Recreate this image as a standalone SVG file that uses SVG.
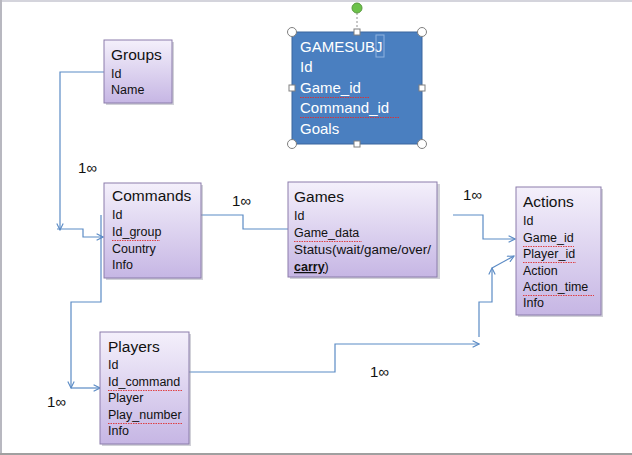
<svg xmlns="http://www.w3.org/2000/svg" width="632" height="455" viewBox="0 0 632 455">
<style>
.frame{fill:#ffffff}
.node rect.box{fill:url(#ng);stroke:#8b7cab;stroke-width:1}
.node rect.sh{fill:#9a9aa8;opacity:0.45}
.t{font-family:"Liberation Sans","DejaVu Sans",sans-serif;font-size:15.5px;fill:#111}
.f{font-family:"Liberation Sans","DejaVu Sans",sans-serif;font-size:12.5px;fill:#111}
.lbl{font-family:"Liberation Sans","DejaVu Sans",sans-serif;font-size:15px;fill:#111}
.w{font-family:"Liberation Sans","DejaVu Sans",sans-serif;font-size:15px;fill:#ffffff}
.c{fill:none;stroke:#5b8bc5;stroke-width:1.2}
.sq{fill:none;stroke:#e03030;stroke-width:0.9;stroke-dasharray:1.5 1}
.h{fill:#ffffff;stroke:#808080;stroke-width:1}
</style>
<defs>
<linearGradient id="ng" x1="0" y1="0" x2="0" y2="1">
<stop offset="0" stop-color="#f4f0fb"/>
<stop offset="1" stop-color="#c6b6e4"/>
</linearGradient>
<marker id="ar" viewBox="0 0 10 10" refX="9" refY="5" markerWidth="8" markerHeight="8" orient="auto" markerUnits="userSpaceOnUse">
<path d="M1,1 L9,5 L1,9" fill="none" stroke="#5b8bc5" stroke-width="1.4"/>
</marker>
</defs>
<rect class="frame" x="0" y="0" width="632" height="455"/>
<rect x="0" y="0" width="632" height="2" fill="#d4d4dc"/>
<rect x="0" y="0" width="2" height="455" fill="#b8b8c0"/>
<rect x="0" y="453" width="632" height="2" fill="#a0a0a0"/>

<g id="connectors">
<path class="c" d="M104,72 H60 V230" marker-end="url(#ar)"/>
<path class="c" d="M57,229 H83 V237 H103" marker-end="url(#ar)"/>
<path class="c" d="M101,215 V302 H71 V388" marker-end="url(#ar)"/>
<path class="c" d="M71,388 H100" marker-end="url(#ar)"/>
<path class="c" d="M201,215 H243 V229 H288"/>
<path class="c" d="M453,215 H483 V239 H515" marker-end="url(#ar)"/>
<path class="c" d="M189,372 H335 V344 H479" marker-end="url(#ar)"/>
<path class="c" d="M479,337 V302 H492 V268" marker-end="url(#ar)"/>
<path class="c" d="M492,268 L514,256" marker-end="url(#ar)"/>
<text class="lbl" x="78" y="173">1∞</text>
<text class="lbl" x="232" y="206">1∞</text>
<text class="lbl" x="463" y="200">1∞</text>
<text class="lbl" x="370" y="377">1∞</text>
<text class="lbl" x="47" y="407">1∞</text>
</g>

<g id="groups" class="node">
<rect class="sh" x="106" y="42" width="68" height="63"/>
<rect class="box" x="104" y="40" width="68" height="63"/>
<text class="t" x="111" y="60">Groups</text>
<text class="f" x="111" y="78">Id</text>
<text class="f" x="111" y="94">Name</text>
</g>

<g id="commands" class="node">
<rect class="sh" x="106" y="185" width="97" height="95"/>
<rect class="box" x="104" y="183" width="97" height="95"/>
<text class="t" x="112" y="201">Commands</text>
<text class="f" x="112" y="219">Id</text>
<text class="f" x="112" y="236">Id_group</text>
<path class="sq" d="M112,240.5 H160"/>
<text class="f" x="112" y="253">Country</text>
<text class="f" x="112" y="269">Info</text>
</g>

<g id="games" class="node">
<rect class="sh" x="290" y="184" width="150" height="95"/>
<rect class="box" x="288" y="182" width="149" height="95"/>
<text class="t" x="294" y="202">Games</text>
<text class="f" x="294" y="220">Id</text>
<text class="f" x="294" y="237">Game_data</text>
<path class="sq" d="M294,241.5 H362"/>
<text class="f" x="294" y="254" textLength="137" lengthAdjust="spacingAndGlyphs">Status(wait/game/over/</text>
<text class="f" x="294" y="271"><tspan font-weight="bold" text-decoration="underline">carry</tspan>)</text>
</g>

<g id="actions" class="node">
<rect class="sh" x="518" y="189" width="85" height="128"/>
<rect class="box" x="516" y="187" width="85" height="128"/>
<text class="t" x="523" y="207">Actions</text>
<text class="f" x="523" y="225">Id</text>
<text class="f" x="523" y="242">Game_id</text>
<path class="sq" d="M523,246.5 H574"/>
<text class="f" x="523" y="258">Player_id</text>
<path class="sq" d="M523,262.5 H576"/>
<text class="f" x="523" y="275">Action</text>
<text class="f" x="523" y="291">Action_time</text>
<path class="sq" d="M523,295.5 H594"/>
<text class="f" x="523" y="307">Info</text>
</g>

<g id="players" class="node">
<rect class="sh" x="102" y="334" width="89" height="112"/>
<rect class="box" x="100" y="332" width="89" height="112"/>
<text class="t" x="108" y="352">Players</text>
<text class="f" x="108" y="369">Id</text>
<text class="f" x="108" y="386">Id_command</text>
<path class="sq" d="M108,390.5 H183"/>
<text class="f" x="108" y="402">Player</text>
<text class="f" x="108" y="419">Play_number</text>
<path class="sq" d="M108,423.5 H183"/>
<text class="f" x="108" y="435">Info</text>
</g>

<g id="gamesubj" class="node">
<rect x="292" y="32" width="130" height="112" fill="#4a7fc0" stroke="#3a679e" stroke-width="1"/>
<text class="w" x="300" y="52">GAMESUBJ</text>
<rect x="376" y="35" width="8" height="22" fill="none" stroke="#8fb3e0" stroke-width="1"/>
<text class="w" x="300" y="72">Id</text>
<text class="w" x="300" y="93">Game_id</text>
<path class="sq" d="M300,97.5 H369"/>
<text class="w" x="300" y="113">Command_id</text>
<path class="sq" d="M300,117.5 H400"/>
<text class="w" x="300" y="134">Goals</text>
<line x1="357" y1="13" x2="357" y2="29" stroke="#909090" stroke-width="1" stroke-dasharray="2 2"/>
<circle cx="357" cy="8" r="5" fill="#6cc24a" stroke="#5a9a40" stroke-width="1"/>
<circle class="h" cx="292" cy="32" r="4.5"/>
<circle class="h" cx="422" cy="32" r="4.5"/>
<circle class="h" cx="292" cy="144" r="4.5"/>
<circle class="h" cx="422" cy="144" r="4.5"/>
<rect class="h" x="354" y="29" width="6" height="6"/>
<rect class="h" x="354" y="141" width="6" height="6"/>
<rect class="h" x="289" y="85" width="6" height="6"/>
<rect class="h" x="419" y="85" width="6" height="6"/>
</g>
</svg>
